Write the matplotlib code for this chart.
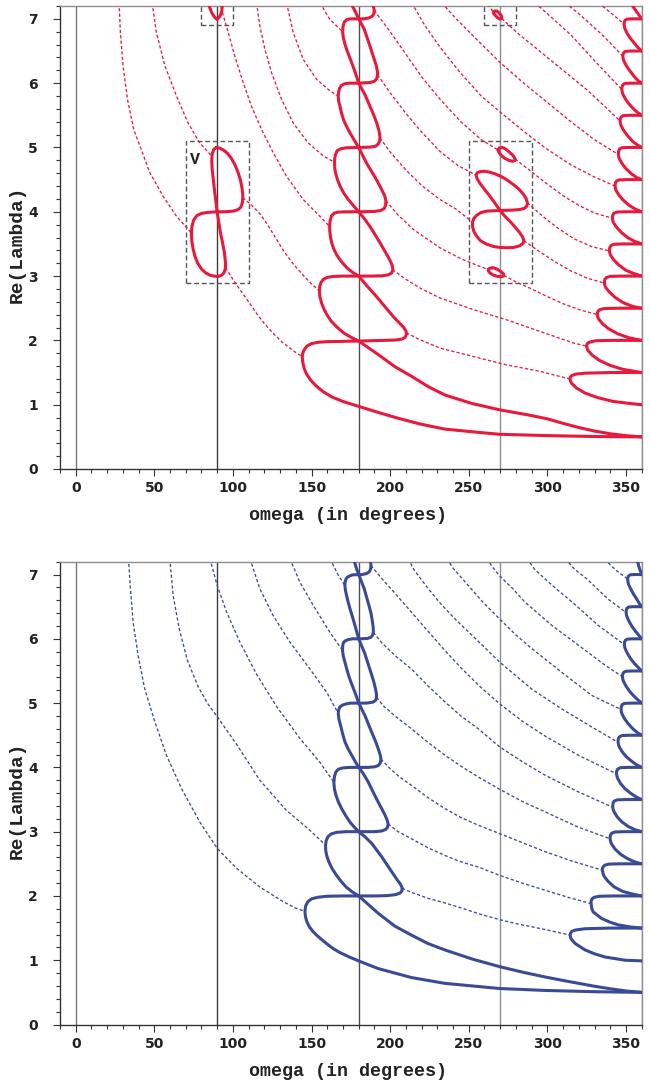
import matplotlib.pyplot as plt
from matplotlib.patches import Rectangle

RED = '#e8193c'
BLUE = '#3a4a97'

# ------------------------------------------------------------------
# top panel (red): chain of loops along omega = 180
# ------------------------------------------------------------------
red_noses_180 = [
    [(180, 1.99), (170, 1.985), (160, 1.98), (154, 1.97), (150, 1.95), (147, 1.91), (145.2, 1.85),
     (144.3, 1.79), (144.1, 1.73), (144.5, 1.65), (145.5, 1.55), (147, 1.47), (149.5, 1.38), (153, 1.29),
     (157.5, 1.2), (163, 1.12), (170, 1.05), (180.5, 0.97), (192.4, 0.88), (205, 0.79), (219, 0.70),
     (234.9, 0.62), (256.1, 0.57), (269.7, 0.54), (298.6, 0.52), (330.4, 0.505), (360, 0.5)],
    [(180, 3.0), (170, 3.0), (164, 2.995), (160, 2.98), (157.5, 2.95), (156, 2.9), (155.2, 2.84),
     (155, 2.77), (155.3, 2.68), (156.4, 2.58), (158, 2.48), (160, 2.39), (162.5, 2.3), (166, 2.21),
     (170.2, 2.12), (175, 2.05), (180, 1.99)],
    [(180, 4.0), (172, 4.0), (167, 3.995), (164.5, 3.98), (162.8, 3.94), (161.9, 3.87), (161.5, 3.79),
     (161.6, 3.7), (162.1, 3.6), (162.8, 3.52), (164, 3.43), (166, 3.33), (168.8, 3.23), (172.4, 3.13),
     (176, 3.06), (180, 3.0)],
    [(180, 5.0), (172.2, 4.995), (168.5, 4.98), (166.3, 4.95), (165.2, 4.89), (164.7, 4.82), (164.6, 4.76),
     (164.8, 4.67), (165.3, 4.60), (166.5, 4.5), (168.1, 4.40), (170.5, 4.29), (173.4, 4.19), (176.5, 4.1),
     (180, 4.0)],
    [(180, 6.0), (174, 6.0), (171, 5.99), (169, 5.965), (167.8, 5.92), (167.2, 5.86), (167.0, 5.80),
     (167.2, 5.72), (168.1, 5.64), (169, 5.54), (170.2, 5.44), (172, 5.34), (174.4, 5.23), (177, 5.12),
     (180, 5.0)],
    [(180, 7.0), (175, 7.0), (172.5, 6.99), (170.8, 6.95), (170, 6.88), (169.8, 6.80), (170.2, 6.71),
     (171.2, 6.61), (172.4, 6.52), (173.8, 6.43), (175.5, 6.32), (177.3, 6.2), (178.7, 6.1), (180, 6.0)],
    [(180, 7.0), (177.5, 7.13), (175.5, 7.22), (174.5, 7.27)],
]
red_tips_180 = [
    [(180, 3.0), (185.5, 2.84), (191.4, 2.68), (196.8, 2.52), (202, 2.37), (205.5, 2.28), (208.3, 2.21),
     (210, 2.15), (210.4, 2.1), (209.6, 2.05), (207.5, 2.02), (203, 2.005), (196, 2.0), (180, 1.99)],
    [(180, 4.0), (184, 3.88), (188, 3.74), (193.5, 3.52), (197.5, 3.35), (200, 3.24), (201.4, 3.16),
     (201.7, 3.1), (201, 3.05), (199, 3.02), (195, 3.005), (188, 3.0), (180, 3.0)],
    [(180, 5.0), (184.9, 4.76), (191.3, 4.50), (194.5, 4.35), (196.5, 4.25), (197.3, 4.17), (197.1, 4.1),
     (196.2, 4.05), (194, 4.02), (190, 4.005), (180, 4.0)],
    [(180, 6.0), (184, 5.82), (187, 5.65), (189.3, 5.52), (191.5, 5.38), (192.9, 5.26), (193.5, 5.17),
     (193.4, 5.11), (192.6, 5.06), (190.8, 5.02), (187, 5.005), (180, 5.0)],
    [(180, 7.0), (183.5, 6.84), (187.1, 6.58), (189.5, 6.4), (191.2, 6.27), (191.9, 6.18), (192, 6.13),
     (191.5, 6.07), (190, 6.03), (187, 6.01), (180, 6.0)],
    [(187.5, 7.3), (188.8, 7.22), (189.6, 7.17), (189.9, 7.13), (189.6, 7.08), (188.6, 7.04),
     (186.5, 7.015), (183, 7.0), (180, 7.0)],
]
red_diag_180 = [(180, 1.99), (192.4, 1.78), (203.1, 1.59), (213.7, 1.44), (224.3, 1.28), (234.9, 1.15),
                (251.9, 1.02), (269.7, 0.92), (288, 0.84), (300, 0.78), (310, 0.71), (320, 0.645),
                (330, 0.59), (340, 0.548), (350, 0.518), (360, 0.5)]

# chain of noses touching omega = 360
red_noses_360 = [
    [(360, 1.5), (340, 1.5), (324, 1.49), (318, 1.475), (315.6, 1.455), (314.6, 1.43), (314.4, 1.40),
     (314.8, 1.36), (315.5, 1.33), (318.5, 1.26), (324, 1.18), (332, 1.11), (342, 1.05), (352, 1.02),
     (360, 1.0)],
    [(360, 2.0), (342, 2.0), (331, 1.995), (327, 1.975), (325.6, 1.955), (325.1, 1.935), (325, 1.91),
     (325.3, 1.87), (326, 1.84), (328.5, 1.77), (333, 1.69), (340, 1.61), (348, 1.55), (360, 1.5)],
    [(360, 2.5), (345, 2.5), (336, 2.495), (333.3, 2.478), (332.2, 2.455), (331.8, 2.425), (331.8, 2.40),
     (332.1, 2.36), (332.7, 2.33), (335, 2.26), (339, 2.18), (345, 2.1), (352, 2.04), (360, 2.0)],
    [(360, 3.0), (347, 3.0), (340, 2.995), (337.5, 2.977), (336.6, 2.95), (336.3, 2.92), (336.3, 2.89),
     (336.6, 2.85), (337.2, 2.82), (339.5, 2.75), (343, 2.67), (348, 2.59), (354, 2.53), (360, 2.5)],
    [(360, 3.5), (348, 3.5), (342.5, 3.495), (340.5, 3.477), (339.8, 3.45), (339.5, 3.42), (339.5, 3.39),
     (339.8, 3.35), (340.3, 3.32), (342.3, 3.25), (345.5, 3.17), (350, 3.09), (355, 3.04), (360, 3.0)],
    [(360, 4.0), (349, 4.0), (344, 3.995), (342.3, 3.977), (341.7, 3.95), (341.4, 3.925), (341.4, 3.90),
     (341.6, 3.86), (342.1, 3.83), (344, 3.76), (347, 3.68), (351, 3.6), (355.5, 3.54), (360, 3.5)],
    [(360, 4.5), (350, 4.5), (345.5, 4.495), (343.9, 4.477), (343.3, 4.45), (343.1, 4.425), (343.1, 4.40),
     (343.3, 4.36), (343.8, 4.33), (345.5, 4.26), (348.3, 4.18), (352, 4.1), (356, 4.04), (360, 4.0)],
    [(360, 5.0), (351, 5.0), (347.3, 4.995), (346, 4.977), (345.4, 4.95), (345.2, 4.92), (345.2, 4.89),
     (345.4, 4.85), (345.9, 4.82), (347.5, 4.75), (350, 4.67), (353.5, 4.59), (357, 4.53), (360, 4.5)],
    [(360, 5.5), (352, 5.5), (348.3, 5.495), (347, 5.477), (346.5, 5.45), (346.3, 5.43), (346.3, 5.41),
     (346.5, 5.37), (346.9, 5.34), (348.4, 5.27), (350.8, 5.19), (354, 5.1), (357.2, 5.04), (360, 5.0)],
    [(360, 6.0), (352.5, 6.0), (349.2, 5.995), (348.1, 5.977), (347.6, 5.95), (347.4, 5.925), (347.4, 5.90),
     (347.6, 5.86), (348, 5.83), (349.5, 5.76), (351.8, 5.68), (354.8, 5.6), (357.6, 5.54), (360, 5.5)],
    [(360, 6.5), (353, 6.5), (349.8, 6.495), (348.7, 6.477), (348.2, 6.455), (348.0, 6.435), (348.0, 6.42),
     (348.2, 6.38), (348.6, 6.35), (350, 6.28), (352.2, 6.2), (355, 6.11), (357.7, 6.04), (360, 6.0)],
    [(360, 7.0), (353.5, 7.0), (350.5, 6.995), (349.4, 6.977), (349, 6.955), (348.8, 6.935), (348.8, 6.92),
     (349, 6.88), (349.3, 6.85), (350.6, 6.78), (352.7, 6.7), (355.4, 6.62), (357.8, 6.55), (360, 6.5)],
    [(360, 7.0), (356.5, 7.12), (353.7, 7.22), (351, 7.33)],
]

# loops at omega = 90 and omega = 270
red_loop_90 = [(89.5, 5.0), (91.5, 4.99), (94, 4.96), (96.5, 4.91), (99, 4.83), (101.3, 4.73),
               (103.3, 4.61), (104.9, 4.48), (105.9, 4.35), (106.3, 4.24), (106, 4.14), (105, 4.07),
               (103, 4.03), (100, 4.01), (95, 4.0), (89.8, 4.0), (84, 3.99), (80, 3.975), (77, 3.94),
               (75, 3.87), (73.9, 3.77), (73.6, 3.67), (73.8, 3.55), (74.6, 3.43), (75.8, 3.31),
               (77.6, 3.2), (80, 3.11), (82.7, 3.05), (85.3, 3.015), (88, 3.0), (90.5, 2.995), (92.6, 3.01),
               (94.3, 3.05), (95.2, 3.12), (95.3, 3.2), (94.6, 3.36), (93.4, 3.52), (92.1, 3.67), (90, 3.99),
               (88.2, 4.35), (86.8, 4.66), (86.5, 4.8), (86.8, 4.9), (87.8, 4.97), (89.5, 5.0)]
red_cap_90 = [(84.2, 7.25), (86.4, 7.10), (88.5, 7.02), (89.9, 6.99), (91.7, 7.04), (92.9, 7.12), (93.3, 7.25)]
red_lobes_270 = [
    [(269.9, 4.02), (266.5, 4.14), (263.5, 4.24), (260, 4.35), (257.2, 4.44), (255.2, 4.52), (254.6, 4.57),
     (255.5, 4.61), (257.5, 4.625), (260, 4.63), (263.5, 4.615), (266.7, 4.59), (270.5, 4.55), (274.1, 4.5),
     (278, 4.43), (281.6, 4.36), (284.5, 4.28), (286.4, 4.21), (287.3, 4.14), (287, 4.09), (285.5, 4.055),
     (282.5, 4.035), (277.3, 4.025), (269.9, 4.02)],
    [(269.9, 4.02), (265, 4.015), (261.4, 4.01), (258, 3.99), (255.3, 3.95), (253.3, 3.9), (252.4, 3.84),
     (252.4, 3.77), (253.3, 3.69), (255, 3.62), (257.5, 3.55), (261, 3.5), (265.7, 3.46), (270, 3.445),
     (274.1, 3.44), (278.5, 3.445), (282.3, 3.47), (284.6, 3.51), (285.1, 3.55), (284.2, 3.61),
     (282.3, 3.68), (279.5, 3.76), (276.3, 3.85), (273, 3.93), (269.9, 4.02)],
    [(268.7, 4.96), (269.6, 4.995), (271.5, 5.0), (273.5, 4.975), (276, 4.925), (278.3, 4.87), (279.5, 4.825),
     (279.3, 4.795), (277.8, 4.785), (275.5, 4.8), (273, 4.83), (270.5, 4.88), (269, 4.93), (268.7, 4.96)],
    [(262.5, 3.1), (263.5, 3.125), (265.5, 3.13), (268, 3.11), (270.5, 3.07), (272.2, 3.03), (272.3, 3.005),
     (270.8, 2.99), (268.3, 2.995), (265.6, 3.015), (263.4, 3.05), (262.5, 3.08), (262.5, 3.1)],
    [(265.7, 7.1), (266.5, 7.125), (268, 7.12), (269.6, 7.085), (270.9, 7.04), (271, 7.005), (270, 6.995),
     (268.4, 7.015), (266.8, 7.055), (265.8, 7.09), (265.7, 7.1)],
]

# dashed branches, top panel
red_dash_left = [
    [(27.6, 7.25), (28.4, 6.79), (30.1, 6.27), (32.9, 5.75), (36.9, 5.28), (42.4, 4.92), (47.1, 4.61),
     (55.6, 4.24), (64.1, 3.93), (73.6, 3.67)],
    [(48.6, 7.25), (51.3, 6.79), (56.7, 6.27), (64.1, 5.80), (71.5, 5.38), (78.9, 5.07), (86, 4.88)],
    [(93.3, 7.1), (97.0, 6.79), (101.2, 6.42), (106.5, 6.01), (111.8, 5.64), (118.2, 5.28), (125.6, 4.92),
     (134.1, 4.55), (144.7, 4.19), (155.3, 3.93), (161.5, 3.77)],
    [(115.0, 7.25), (117.1, 6.89), (120.3, 6.53), (124.6, 6.16), (130.9, 5.75), (138.3, 5.38),
     (147.9, 5.07), (157.4, 4.87), (164.6, 4.77)],
    [(134.1, 7.25), (138.3, 6.79), (144.7, 6.37), (153.2, 6.06), (161.7, 5.88), (167.0, 5.80)],
    [(155.3, 7.25), (161.7, 6.99), (169.8, 6.80)],
    [(106.3, 4.22), (112, 4.1), (117.1, 3.97), (122, 3.8), (127, 3.6), (132, 3.4), (138.3, 3.19),
     (144, 3.03), (149.5, 2.89), (155, 2.77)],
    [(95.3, 3.13), (100, 2.95), (104.4, 2.79), (110, 2.6), (115, 2.42), (120, 2.26), (125.6, 2.11),
     (131, 1.98), (136.2, 1.88), (140, 1.81), (144.1, 1.75)],
]
red_dash_right = [
    [(210.3, 2.12), (218, 2.02), (231.7, 1.88), (252.7, 1.75), (273.9, 1.62), (295.1, 1.52), (314.4, 1.40)],
    [(201.5, 3.1), (210, 2.95), (220, 2.80), (231.7, 2.66), (252.7, 2.48), (274.1, 2.32), (295.3, 2.14),
     (316.5, 1.96), (325, 1.91)],
    [(197.3, 4.17), (205, 3.95), (215, 3.72), (231.7, 3.44), (245, 3.27), (255, 3.17), (262.5, 3.1)],
    [(272.3, 3.01), (280, 2.91), (290, 2.80), (300, 2.68), (310, 2.57), (320, 2.48), (331.8, 2.40)],
    [(193.5, 5.15), (200, 4.93), (210, 4.65), (220, 4.41), (231.7, 4.19), (242, 4.04), (252.4, 3.84)],
    [(285.1, 3.55), (295, 3.38), (305, 3.22), (315, 3.08), (325, 2.97), (336.3, 2.89)],
    [(192, 6.13), (200, 5.85), (210, 5.53), (220, 5.24), (231.7, 4.94), (243, 4.72), (254.6, 4.57)],
    [(287.3, 4.14), (297, 3.93), (307, 3.74), (317, 3.58), (328, 3.46), (339.5, 3.39)],
    [(189.9, 7.13), (200, 6.8), (210, 6.45), (220, 6.1), (231.7, 5.75), (245, 5.4), (258, 5.12), (268.7, 4.96)],
    [(279.5, 4.82), (290, 4.62), (300, 4.43), (310, 4.25), (320, 4.1), (330, 3.98), (341.4, 3.90)],
    [(213.7, 7.25), (222, 6.9), (232, 6.55), (245, 6.15), (258, 5.8), (270, 5.55), (285, 5.25), (300, 4.97),
     (315, 4.73), (330, 4.54), (343.1, 4.40)],
    [(232.8, 7.25), (242, 7.0), (255, 6.68), (270, 6.32), (285, 6.0), (300, 5.7), (315, 5.4), (330, 5.12),
     (345.2, 4.89)],
    [(260.3, 7.3), (265.7, 7.1)],
    [(271, 7.005), (280, 6.8), (295, 6.5), (310, 6.2), (325, 5.9), (336, 5.65), (346.3, 5.41)],
    [(292, 7.25), (300, 7.08), (315, 6.75), (330, 6.35), (347.4, 5.90)],
    [(311.3, 7.25), (320, 7.08), (335, 6.75), (348, 6.42)],
    [(332.5, 7.25), (340, 7.1), (348.8, 6.92)],
]
# dashed frames (omega_min, omega_max, re_min, re_max) and the label
red_boxes = [(70, 110, 2.9, 5.1), (80, 100, 6.9, 7.4), (250, 290, 2.9, 5.1), (260, 280, 6.9, 7.4)]
red_label = ('V', 72.5, 4.82)

# ------------------------------------------------------------------
# bottom panel (blue)
# ------------------------------------------------------------------
blue_noses_180 = [
    [(180, 2.0), (170, 2.0), (160, 1.995), (154, 1.98), (150, 1.955), (147.6, 1.91), (146.2, 1.84),
     (145.8, 1.76), (146.1, 1.68), (147, 1.60), (148.6, 1.52), (150.8, 1.45), (153.2, 1.39), (157, 1.31),
     (160.5, 1.24), (163.8, 1.18), (168, 1.12), (174, 1.05), (179.9, 0.99), (192.4, 0.87), (213.6, 0.73),
     (234.8, 0.64), (269.6, 0.56), (298.4, 0.53), (330.3, 0.51), (360, 0.5)],
    [(180, 3.0), (172, 3.0), (166, 2.99), (162.5, 2.965), (160.4, 2.92), (159.3, 2.86), (158.9, 2.79),
     (159.0, 2.71), (159.6, 2.63), (161, 2.53), (163.2, 2.42), (165.9, 2.32), (169, 2.22), (172, 2.14),
     (175.5, 2.07), (180, 2.0)],
    [(180, 4.0), (174, 4.0), (169.5, 3.99), (167, 3.97), (165.5, 3.93), (164.6, 3.86), (164.2, 3.77),
     (164.5, 3.67), (165.5, 3.57), (167.1, 3.46), (169.1, 3.36), (171.7, 3.25), (174.4, 3.15),
     (177.2, 3.07), (180, 3.0)],
    [(180, 5.0), (175, 5.0), (172.3, 4.99), (169.8, 4.97), (168, 4.94), (167.2, 4.89), (167.0, 4.84),
     (167.4, 4.75), (168.5, 4.65), (169.8, 4.52), (171.2, 4.40), (173.2, 4.29), (175.5, 4.19),
     (177.8, 4.09), (180, 4.0)],
    [(180, 6.0), (176, 6.0), (173.6, 5.99), (171.5, 5.97), (170.2, 5.94), (169.8, 5.88), (169.7, 5.82),
     (170.2, 5.73), (171.2, 5.64), (172.4, 5.53), (173.6, 5.43), (175, 5.33), (176.6, 5.23), (178.3, 5.12),
     (180, 5.0)],
    [(180, 7.0), (176, 6.995), (174.4, 6.98), (172.8, 6.96), (171.9, 6.93), (171.3, 6.88), (171.2, 6.83),
     (171.6, 6.75), (172.3, 6.67), (173.3, 6.57), (174.4, 6.47), (175.7, 6.37), (177, 6.26), (178.5, 6.13),
     (180, 6.0)],
    [(180, 7.0), (178.5, 7.1), (177.3, 7.2), (176.5, 7.26)],
]
blue_tips_180 = [
    [(180, 3.0), (184, 2.92), (188.2, 2.82), (194.6, 2.61), (200.9, 2.38), (204.5, 2.25), (206.6, 2.18),
     (207.6, 2.13), (207.5, 2.08), (206.3, 2.045), (203.5, 2.02), (198, 2.005), (190, 2.0), (180, 2.0)],
    [(180, 4.0), (183, 3.9), (186.1, 3.77), (189.5, 3.6), (192.4, 3.46), (194.8, 3.35), (196.7, 3.26),
     (198.1, 3.18), (198.7, 3.12), (198.4, 3.07), (197.2, 3.035), (194.5, 3.01), (190, 3.0), (180, 3.0)],
    [(180, 5.0), (183.9, 4.81), (188.2, 4.55), (190.8, 4.4), (192.4, 4.29), (193.6, 4.2), (194.1, 4.14),
     (193.9, 4.08), (192.8, 4.035), (190.5, 4.01), (186.1, 4.0), (180, 4.0)],
    [(180, 6.0), (183.9, 5.77), (187.7, 5.48), (189.5, 5.34), (190.7, 5.22), (191.3, 5.14), (191.3, 5.08),
     (190.6, 5.04), (189, 5.015), (185, 5.0), (180, 5.0)],
    [(180, 7.0), (183.5, 6.78), (186.5, 6.52), (187.9, 6.39), (188.7, 6.27), (189.2, 6.18), (189.3, 6.11),
     (188.9, 6.06), (187.8, 6.025), (185.5, 6.005), (180, 6.0)],
    [(186, 7.3), (187.3, 7.22), (187.8, 7.15), (187.6, 7.09), (186.8, 7.045), (185, 7.015), (182, 7.0),
     (180, 7.0)],
]
blue_diag_180 = [(180, 2.0), (192.4, 1.73), (203, 1.53), (213.6, 1.39), (224, 1.26), (234.8, 1.16),
                 (252, 1.02), (269.6, 0.90), (285, 0.81), (298.4, 0.74), (310, 0.685), (320, 0.64),
                 (330, 0.595), (340.8, 0.553), (350, 0.522), (360, 0.5)]
blue_noses_360 = [
    [(360, 1.5), (340, 1.5), (324, 1.49), (318, 1.47), (315.6, 1.45), (314.7, 1.42), (314.5, 1.39),
     (314.8, 1.35), (315.5, 1.32), (317.7, 1.26), (324, 1.16), (330, 1.10), (336.7, 1.05), (349.5, 1.0),
     (360, 0.99)],
    [(360, 2.0), (342, 2.0), (333, 1.995), (329.6, 1.977), (328.3, 1.95), (327.8, 1.915), (327.8, 1.88),
     (328.3, 1.8), (329.2, 1.75), (334.5, 1.65), (340, 1.59), (345.1, 1.55), (352, 1.52), (360, 1.5)],
    [(360, 2.5), (346, 2.5), (339, 2.495), (336.4, 2.477), (335.4, 2.45), (335, 2.425), (335, 2.40),
     (335.4, 2.35), (336, 2.31), (338.5, 2.23), (342.5, 2.14), (348, 2.07), (354, 2.03), (360, 2.0)],
    [(360, 3.0), (349, 3.0), (343, 2.995), (341, 2.977), (340.2, 2.95), (339.9, 2.92), (339.9, 2.89),
     (340.2, 2.85), (340.8, 2.81), (343, 2.73), (346.5, 2.65), (351, 2.58), (355.5, 2.53), (360, 2.5)],
    [(360, 3.5), (350, 3.5), (344.5, 3.495), (342.5, 3.475), (341.8, 3.445), (341.6, 3.41), (341.6, 3.38),
     (341.9, 3.34), (342.4, 3.31), (344.4, 3.23), (347.5, 3.15), (351.5, 3.08), (355.8, 3.03), (360, 3.0)],
    [(360, 4.0), (351, 4.0), (346.5, 3.995), (344.8, 3.975), (344.2, 3.95), (344, 3.925), (344, 3.90),
     (344.3, 3.86), (344.7, 3.83), (346.5, 3.75), (349.3, 3.67), (352.8, 3.6), (356.5, 3.54), (360, 3.5)],
    [(360, 4.5), (352, 4.5), (347.5, 4.495), (345.8, 4.475), (345.2, 4.45), (345, 4.42), (345, 4.39),
     (345.3, 4.35), (345.7, 4.32), (347.4, 4.25), (350, 4.17), (353.4, 4.1), (356.8, 4.04), (360, 4.0)],
    [(360, 5.0), (353, 5.0), (349, 4.995), (347.6, 4.977), (347.1, 4.95), (346.9, 4.925), (346.9, 4.90),
     (347.1, 4.86), (347.5, 4.83), (349, 4.76), (351.4, 4.68), (354.4, 4.6), (357.3, 4.54), (360, 4.5)],
    [(360, 5.5), (353.5, 5.5), (349.8, 5.495), (348.5, 5.477), (348, 5.455), (347.8, 5.43), (347.8, 5.41),
     (348, 5.37), (348.4, 5.34), (349.9, 5.27), (352.1, 5.19), (355, 5.11), (357.6, 5.05), (360, 5.0)],
    [(360, 6.0), (354, 6.0), (350.8, 5.995), (349.6, 5.977), (349.2, 5.955), (349, 5.93), (349, 5.91),
     (349.2, 5.87), (349.6, 5.84), (351, 5.77), (353, 5.69), (355.6, 5.61), (358, 5.55), (360, 5.5)],
    [(360, 6.5), (354.5, 6.5), (351.7, 6.495), (350.7, 6.477), (350.3, 6.455), (350.1, 6.43), (350.1, 6.41),
     (350.3, 6.37), (350.7, 6.34), (352, 6.27), (353.9, 6.19), (356.3, 6.11), (358.3, 6.05), (360, 6.0)],
    [(360, 7.0), (355, 7.0), (352.6, 6.995), (351.6, 6.977), (351.2, 6.955), (351.1, 6.94), (351.1, 6.93),
     (351.3, 6.88), (351.6, 6.85), (352.9, 6.78), (354.7, 6.7), (356.8, 6.62), (358.5, 6.55), (360, 6.5)],
    [(360, 7.0), (358.5, 7.1), (357.4, 7.2), (356.5, 7.27)],
]
blue_dash_left = [
    [(33.5, 7.25), (33.7, 7.19), (34.8, 6.78), (36.5, 6.26), (39.7, 5.74), (43.9, 5.22), (50.3, 4.71),
     (57.7, 4.19), (67.3, 3.67), (78.9, 3.15), (90.0, 2.74), (102.3, 2.43), (117.1, 2.14), (132.0, 1.91),
     (140, 1.81), (145.8, 1.76)],
    [(59.8, 7.25), (62.0, 6.67), (65.8, 6.16), (71.1, 5.66), (78, 5.25), (84, 4.99), (90, 4.79),
     (102.3, 4.36), (117.1, 3.8), (134.1, 3.33), (149, 3.02), (158.9, 2.79)],
    [(85.3, 7.25), (90.0, 6.83), (95.9, 6.42), (104.4, 5.95), (115.0, 5.45), (127.7, 4.95), (142.6, 4.45),
     (155.3, 4.08), (164.2, 3.77)],
    [(110.8, 7.25), (117.1, 6.78), (125.6, 6.36), (136.2, 5.95), (149.0, 5.53), (159.6, 5.17), (167.0, 4.84)],
    [(136.2, 7.25), (142.6, 6.88), (151.1, 6.52), (161.7, 6.10), (169.7, 5.82)],
    [(161.7, 7.25), (167.0, 6.99), (171.2, 6.83)],
]
blue_dash_right = [
    [(207.6, 2.12), (213, 2.06), (224.5, 1.96), (235, 1.89), (245.7, 1.81), (258, 1.71), (269.9, 1.63),
     (280, 1.57), (290.2, 1.52), (302, 1.46), (314.5, 1.39)],
    [(198.7, 3.12), (205, 3.0), (213.6, 2.89), (224, 2.75), (234.8, 2.63), (245, 2.53), (256.1, 2.45),
     (269.6, 2.32), (284, 2.2), (298.4, 2.09), (313, 1.98), (327.8, 1.88)],
    [(194.1, 4.13), (200, 3.98), (206, 3.85), (213.6, 3.72), (224, 3.53), (234.8, 3.36), (245, 3.22),
     (256.1, 3.10), (269.6, 2.97), (284, 2.83), (298.4, 2.69), (316, 2.54), (335, 2.40)],
    [(191.4, 5.09), (196, 4.95), (204, 4.78), (213.6, 4.60), (224, 4.39), (234.8, 4.19), (245, 4.02),
     (256.1, 3.85), (269.6, 3.66), (284, 3.47), (298.4, 3.31), (319.6, 3.07), (339.9, 2.89)],
    [(189.3, 6.10), (195, 5.93), (204, 5.72), (213.6, 5.53), (224, 5.27), (234.8, 5.02), (245, 4.80),
     (256.1, 4.60), (269.6, 4.32), (284, 4.09), (298.4, 3.88), (319.6, 3.62), (341.6, 3.38)],
    [(187.8, 7.14), (195, 6.93), (203, 6.71), (213, 6.43), (224, 6.12), (234.8, 5.82), (245, 5.55),
     (257, 5.26), (269.6, 4.99), (284, 4.72), (298.4, 4.49), (319.6, 4.19), (344, 3.90)],
    [(211.5, 7.25), (215, 7.08), (224.2, 6.78), (232, 6.55), (241.2, 6.31), (256.1, 5.96), (269.6, 5.64),
     (290, 5.22), (309.1, 4.91), (328.2, 4.63), (345, 4.39)],
    [(236, 7.25), (240, 7.1), (249.7, 6.83), (259, 6.57), (269.6, 6.31), (280, 6.06), (290, 5.85),
     (309.1, 5.48), (328.2, 5.12), (346.9, 4.90)],
    [(261.4, 7.25), (265, 7.12), (269.6, 6.98), (278, 6.78), (285.8, 6.57), (302.8, 6.21), (319.8, 5.90),
     (336.7, 5.59), (347.8, 5.41)],
    [(286.9, 7.25), (292, 7.08), (298.6, 6.93), (307, 6.75), (315.9, 6.57), (332.3, 6.21), (349, 5.91)],
    [(311.4, 7.25), (317, 7.09), (325.2, 6.93), (338.5, 6.62), (350.1, 6.41)],
    [(336.7, 7.25), (340, 7.15), (344, 7.06), (351.1, 6.93)],
]

# axes values
x_ticks = [0, 50, 100, 150, 200, 250, 300, 350]
y_ticks = [0, 1, 2, 3, 4, 5, 6, 7]
guide_omegas = [0, 90, 180, 270, 360]
guide_colors = ['#7a7a7a', '#3c3c3c', '#4e4e4e', '#8e8e8e', '#8e8e8e']


def draw(ax, curves, color, dashed=False):
    for c in curves:
        om = [p[0] for p in c]
        re = [p[1] for p in c]
        if dashed:
            ax.plot(om, re, color=color, lw=0.95, ls=(0, (2.4, 1.7)), zorder=3)
        else:
            ax.plot(om, re, color=color, lw=2.2, solid_joinstyle='round',
                    solid_capstyle='round', zorder=4)


def style_axes(ax):
    ax.set_xlim(-10, 360)
    ax.set_ylim(0, 7.2)
    for om, col in zip(guide_omegas, guide_colors):
        ax.axvline(om, color=col, lw=1.0, zorder=1)
    for side in ['top', 'right']:
        ax.spines[side].set_color('#8e8e8e')
    for side in ['left', 'bottom']:
        ax.spines[side].set_color('#333333')
    for s in ax.spines.values():
        s.set_linewidth(1.0)
    ax.set_xticks(x_ticks)
    ax.set_xticks(range(-10, 361, 10), minor=True)
    ax.set_yticks(y_ticks)
    ax.set_yticks([i * 0.2 for i in range(37)], minor=True)
    ax.tick_params(which='both', direction='out', color='#333333', width=0.8)
    ax.tick_params(which='major', length=5)
    ax.tick_params(which='minor', length=3)
    ax.tick_params(axis='y', pad=11)
    ax.tick_params(axis='x', pad=4)
    for lab in ax.get_xticklabels() + ax.get_yticklabels():
        lab.set_fontfamily('DejaVu Sans')
        lab.set_fontweight('bold')
        lab.set_fontsize(10)
        lab.set_color('#222222')


fig = plt.figure(figsize=(6.49, 10.82), dpi=100)
ax1 = fig.add_axes([60 / 649, 1 - 469 / 1082, 581.7 / 649, 463 / 1082])
ax2 = fig.add_axes([60 / 649, 1 - 1024.5 / 1082, 581.7 / 649, 462.8 / 1082])

# top panel
style_axes(ax1)
draw(ax1, red_dash_left + red_dash_right, RED, dashed=True)
draw(ax1, red_noses_180 + red_tips_180 + [red_diag_180] + red_noses_360, RED)
draw(ax1, [red_loop_90, red_cap_90] + red_lobes_270, RED)
for x0, x1, y0, y1 in red_boxes:
    ax1.add_patch(Rectangle((x0, y0), x1 - x0, y1 - y0, fill=False, ec='#555555', lw=1.0,
                            ls=(0, (3.5, 2)), zorder=2))
ax1.text(red_label[1], red_label[2], red_label[0], fontfamily='Liberation Mono', fontweight='bold',
         fontsize=12, color='#222222', ha='left', va='center', zorder=5)

# bottom panel
style_axes(ax2)
draw(ax2, blue_dash_left + blue_dash_right, BLUE, dashed=True)
draw(ax2, blue_noses_180 + blue_tips_180 + [blue_diag_180] + blue_noses_360, BLUE)

xlab_font = dict(fontfamily='Liberation Mono', fontweight='bold', fontsize=13.2, color='#222222')
ylab_font = dict(fontfamily='Liberation Mono', fontweight='bold', fontsize=14, color='#222222')
for xl_y, yl_y in [(516, 244), (1072, 800)]:
    fig.text(348 / 649, 1 - xl_y / 1082, 'omega (in degrees)', ha='center', va='center', **xlab_font)
    fig.text(17 / 649, 1 - yl_y / 1082, 'Re(Lambda)', ha='center', va='center', rotation=90, **ylab_font)

fig.savefig('out.png', dpi=100)
